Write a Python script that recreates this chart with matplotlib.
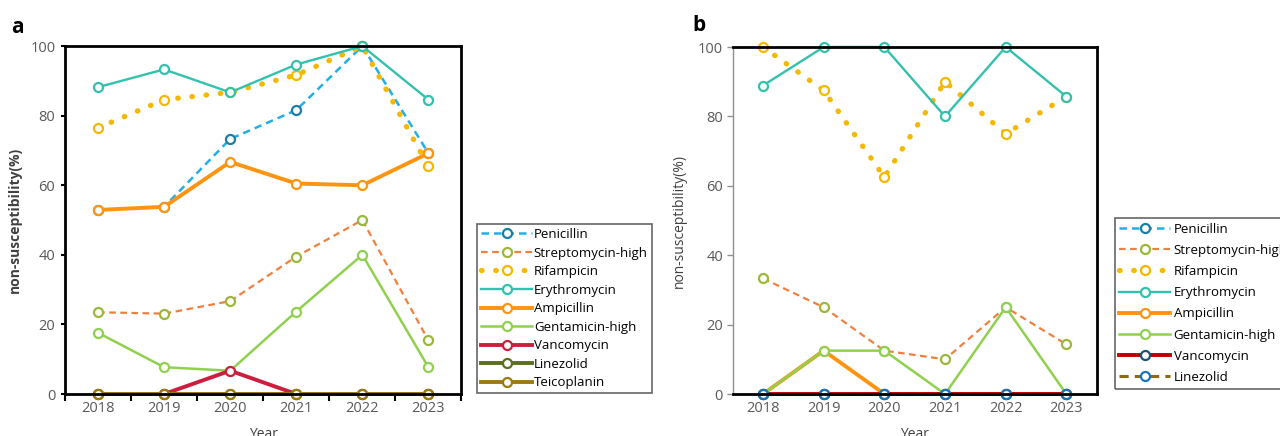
import matplotlib.pyplot as plt
from matplotlib.ticker import MultipleLocator

plt.rcParams['font.family'] = ['Open Sans', 'DejaVu Sans']

years = [2018, 2019, 2020, 2021, 2022, 2023]

# panel a
a_penicillin = [52.9, 53.8, 73.3, 81.6, 100, 69.2]
a_streptomycin = [23.5, 23.1, 26.7, 39.5, 50, 15.4]
a_rifampicin = [76.5, 84.6, 86.7, 91.7, 100, 65.4]
a_erythromycin = [88.2, 93.3, 86.7, 94.7, 100, 84.6]
a_ampicillin = [52.9, 53.8, 66.7, 60.5, 60, 69.2]
a_gentamicin = [17.6, 7.7, 6.7, 23.7, 40, 7.7]
a_vancomycin = [0, 0, 6.7, 0, 0, 0]
a_linezolid = [0, 0, 0, 0, 0, 0]
a_teicoplanin = [0, 0, 0, 0, 0, 0]

# panel b
b_penicillin = [0, 0, 0, 0, 0, 0]
b_streptomycin = [33.3, 25, 12.5, 10, 25, 14.3]
b_rifampicin = [100, 87.5, 62.5, 90, 75, 85.7]
b_erythromycin = [88.9, 100, 100, 80, 100, 85.7]
b_ampicillin = [0, 12.5, 0, 0, 0, 0]
b_gentamicin = [0, 12.5, 12.5, 0, 25, 0]
b_vancomycin = [0, 0, 0, 0, 0, 0]
b_linezolid = [0, 0, 0, 0, 0, 0]

# line colour, marker edge colour, linestyle, linewidth
styles = {
    "Penicillin": ("#22aee6", "#1b7fa3", (0, (3, 2)), 1.8),
    "Streptomycin-high": ("#ef8040", "#9bb83a", (0, (3, 2)), 1.6),
    "Rifampicin": ("#f5b800", "#f5b800", (0, (0.1, 2.6)), 3.8),
    "Erythromycin": ("#32c1ad", "#32c1ad", "-", 1.7),
    "Ampicillin": ("#ff9410", "#ff9410", "-", 2.8),
    "Gentamicin-high": ("#8fd14f", "#8fd14f", "-", 1.8),
    "Vancomycin": ("#cc1f3f", "#cc1f3f", "-", 2.8),
    "Linezolid": ("#5c6f1c", "#5c6f1c", "-", 2.8),
    "Teicoplanin": ("#9c7a10", "#9c7a10", "-", 2.8),
}
styles_b = dict(styles)
styles_b["Vancomycin"] = ("#c00000", "#1c5470", "-", 2.8)
styles_b["Linezolid"] = ("#8b6a14", "#1a74bd", (0, (3, 2)), 2.2)

fig = plt.figure(figsize=(12.8, 4.36), dpi=100)
ax1 = fig.add_axes([0.0508, 0.0963, 0.3097, 0.798])
ax2 = fig.add_axes([0.5724, 0.0963, 0.2844, 0.7959])

series_a = [("Penicillin", a_penicillin), ("Streptomycin-high", a_streptomycin),
            ("Rifampicin", a_rifampicin), ("Erythromycin", a_erythromycin),
            ("Ampicillin", a_ampicillin), ("Gentamicin-high", a_gentamicin),
            ("Vancomycin", a_vancomycin), ("Linezolid", a_linezolid),
            ("Teicoplanin", a_teicoplanin)]
series_b = [("Penicillin", b_penicillin), ("Streptomycin-high", b_streptomycin),
            ("Rifampicin", b_rifampicin), ("Erythromycin", b_erythromycin),
            ("Ampicillin", b_ampicillin), ("Gentamicin-high", b_gentamicin),
            ("Vancomycin", b_vancomycin), ("Linezolid", b_linezolid)]


def draw(ax, series, st):
    for name, vals in series:
        col, mec, ls, lw = st[name]
        ax.plot(years, vals, color=col, linestyle=ls, linewidth=lw,
                dash_capstyle="round" if name == "Rifampicin" else "butt",
                marker="o", markersize=6.5, markerfacecolor="white",
                markeredgecolor=mec, markeredgewidth=1.6, label=name,
                clip_on=False)
    ax.set_xlim(2017.5, 2023.5)
    ax.set_ylim(0, 100)
    ax.set_xticks(years)
    ax.yaxis.set_major_locator(MultipleLocator(20))
    ax.tick_params(labelsize=10.5, labelcolor="#595959")
    ax.set_xlabel("Year", fontsize=10, color="#404040", labelpad=8)


draw(ax1, series_a, styles)
draw(ax2, series_b, styles_b)

# panel a axes style
for s in ax1.spines.values():
    s.set_linewidth(2)
    s.set_color("black")
ax1.set_xticks([y + 0.5 for y in [2017] + years], minor=True)
ax1.tick_params(axis="x", which="major", length=0, pad=5)
ax1.tick_params(axis="x", which="minor", length=5, width=1.5, color="black")
ax1.tick_params(axis="y", length=3, width=1.5, color="black", pad=4)
ax1.set_ylabel("non-susceptibility(%)", fontsize=10, fontweight="bold",
               color="#404040", labelpad=6)

# panel b axes style
for side in ["top", "right", "bottom"]:
    ax2.spines[side].set_linewidth(2)
    ax2.spines[side].set_color("black")
ax2.spines["left"].set_linewidth(1)
ax2.spines["left"].set_color("#909090")
ax2.tick_params(axis="x", length=0, pad=5)
ax2.tick_params(axis="y", length=4, width=1, color="#909090", pad=3)
ax2.set_ylabel("non-susceptibility(%)", fontsize=10, color="#404040", labelpad=8)

fig.text(0.009, 0.925, "a", fontsize=15, fontweight="bold")
fig.text(0.541, 0.93, "b", fontsize=15, fontweight="bold")

leg1 = ax1.legend(loc="upper left", bbox_to_anchor=(0.3727, 0.4862),
                  bbox_transform=fig.transFigure, fontsize=9.5, frameon=True,
                  fancybox=False, edgecolor="#404040", handlelength=3.9,
                  handletextpad=0.1, labelspacing=0.42, borderpad=0.3,
                  borderaxespad=0)
leg1.get_frame().set_linewidth(1.2)
leg1.get_frame().set_facecolor("none")

leg2 = ax2.legend(loc="upper left", bbox_to_anchor=(0.871, 0.5),
                  bbox_transform=fig.transFigure, fontsize=9.5, frameon=True,
                  fancybox=False, edgecolor="#404040", handlelength=3.8,
                  handletextpad=0.3, labelspacing=0.62, borderpad=0.35,
                  borderaxespad=0)
leg2.get_frame().set_linewidth(1.2)
leg2.get_frame().set_facecolor("none")

fig.savefig("out.png", dpi=100)
